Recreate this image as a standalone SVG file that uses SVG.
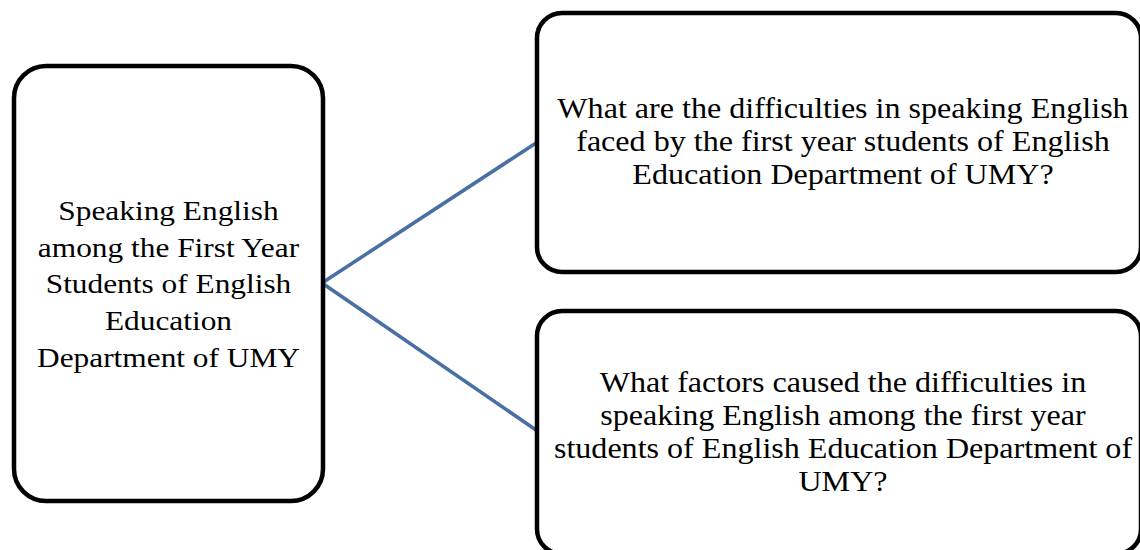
<svg xmlns="http://www.w3.org/2000/svg" width="1140" height="550" viewBox="0 0 1140 550">
<style>
.box{fill:#ffffff;stroke:#000000;stroke-width:4.5}
.conn{stroke:#4a6fa5;stroke-width:3.6;fill:none;stroke-linecap:round}
.t{font-family:"Liberation Serif","Times New Roman",serif;font-size:28px;fill:#000000;text-anchor:middle}
.tr{font-size:30px}
</style>
<rect width="1140" height="550" fill="#ffffff"/>
<g id="connectors">
<line class="conn" x1="322" y1="283" x2="536" y2="143"/>
<line class="conn" x1="322" y1="283" x2="536" y2="430"/>
</g>
<g id="node-topic">
<rect class="box" x="14" y="66" width="309" height="435" rx="32" ry="32"/>
<g transform="translate(168.5,0) scale(1.12,1)">
<text class="t" x="0" y="220.5">Speaking English</text>
<text class="t" x="0" y="257">among the First Year</text>
<text class="t" x="0" y="293.5">Students of English</text>
<text class="t" x="0" y="330">Education</text>
<text class="t" x="0" y="366.7">Department of UMY</text>
</g>
</g>
<g id="node-q1">
<rect class="box" x="537" y="13" width="604" height="259" rx="25" ry="25"/>
<g transform="translate(843,0) scale(1.07,1)">
<text class="t tr" x="0" y="118">What are the difficulties in speaking English</text>
<text class="t tr" x="0" y="151">faced by the first year students of English</text>
<text class="t tr" x="0" y="184">Education Department of UMY?</text>
</g>
</g>
<g id="node-q2">
<rect class="box" x="537" y="311" width="604" height="243" rx="25" ry="25"/>
<g transform="translate(843,0) scale(1.07,1)">
<text class="t tr" x="0" y="392">What factors caused the difficulties in</text>
<text class="t tr" x="0" y="425">speaking English among the first year</text>
<text class="t tr" x="0" y="458">students of English Education Department of</text>
<text class="t tr" x="0" y="491">UMY?</text>
</g>
</g>
</svg>
